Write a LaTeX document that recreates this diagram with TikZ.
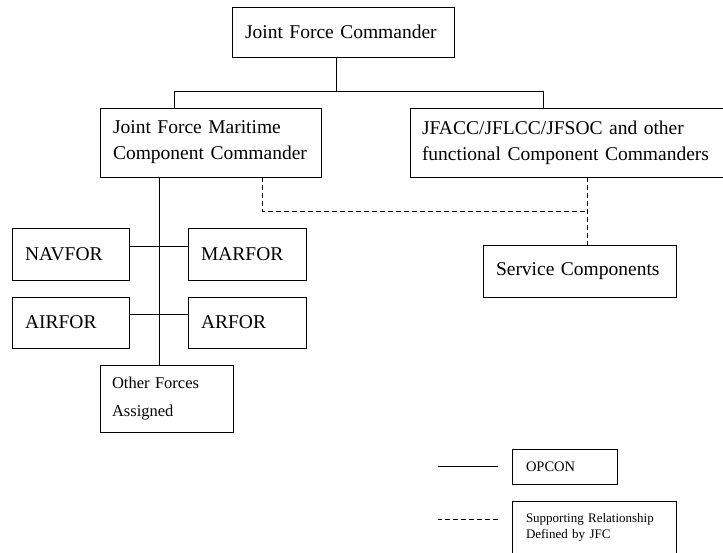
\documentclass[tikz,border=0pt]{standalone}
\usepackage{fontspec}
\setmainfont{Liberation Serif}
\begin{document}
\begin{tikzpicture}[x=1pt, y=-1pt,
    box/.style={draw, line width=0.9pt, inner xsep=13pt, inner ysep=3pt, align=left,
      font=\fontsize{19.5}{26}\selectfont},
    opline/.style={line width=0.9pt},
    support/.style={line width=0.9pt, dash pattern=on 5pt off 3pt}]
  \useasboundingbox (0,0) rectangle (723,552);
  \clip (0,0) rectangle (723,552);
  % Nodes
  \node[box, text width=196pt, minimum height=50pt] (jfc) at (343,32) {Joint Force Commander};
  \node[box, text width=195pt, minimum height=69pt] (jfmcc) at (210.5,142.5) {Joint Force Maritime\\Component Commander};
  \node[box, inner xsep=12pt, text width=296pt, minimum height=69pt] (jfacc) at (570,142.5) {JFACC/JFLCC/JFSOC and other\\functional Component Commanders};
  \node[box, text width=91pt, minimum height=52pt] (navfor) at (70.5,254) {NAVFOR};
  \node[box, text width=92pt, minimum height=52pt] (marfor) at (247,254) {MARFOR};
  \node[box, text width=91pt, minimum height=51pt] (airfor) at (70.5,322.5) {AIRFOR};
  \node[box, text width=92pt, minimum height=51pt] (arfor) at (247,322.5) {ARFOR};
  \node[box, inner xsep=12pt, text width=109pt, minimum height=67pt,
    font=\fontsize{16.5}{28}\selectfont] (other) at (166.5,398.5) {Other Forces\\Assigned};
  \node[box, text width=167pt, minimum height=52pt] (svc) at (579.5,271) {Service Components};
  % Legend
  \node[box, inner xsep=14pt, text width=77pt, minimum height=35pt,
    font=\fontsize{14.5}{18}\selectfont] (opcon) at (564.5,466.5) {OPCON};
  \node[box, inner xsep=14pt, text width=136pt, minimum height=52pt,
    font=\fontsize{13}{16}\selectfont] (suprel) at (594,527) {Supporting Relationship\\Defined by JFC};
  \coordinate (jn) at (587,211);
  % Connection
  \draw[opline] ([xshift=-7pt]jfc.south) -- ++(0,34) -| ([xshift=-36.5pt]jfmcc.north);
  \draw[opline] ([xshift=-7pt]jfc.south) -- ++(0,34) -| ([xshift=-27pt]jfacc.north);
  \draw[opline] ([xshift=-51.5pt]jfmcc.south) -- ([xshift=-7.5pt]other.north);
  \draw[opline] ([yshift=8pt]navfor.east) -- ([yshift=8pt]marfor.west);
  \draw[opline] ([yshift=8.5pt]airfor.east) -- ([yshift=8.5pt]arfor.west);
  \draw[support] ([xshift=51.5pt]jfmcc.south) |- (jn);
  \draw[support] ([xshift=17pt]jfacc.south) -- ([xshift=7.5pt]svc.north);
  \draw[opline] ([xshift=-14pt]opcon.west) -- ++(-60,0);
  \draw[support] ([xshift=-14pt,yshift=8pt]suprel.west) -- ++(-60,0);
\end{tikzpicture}
\end{document}
